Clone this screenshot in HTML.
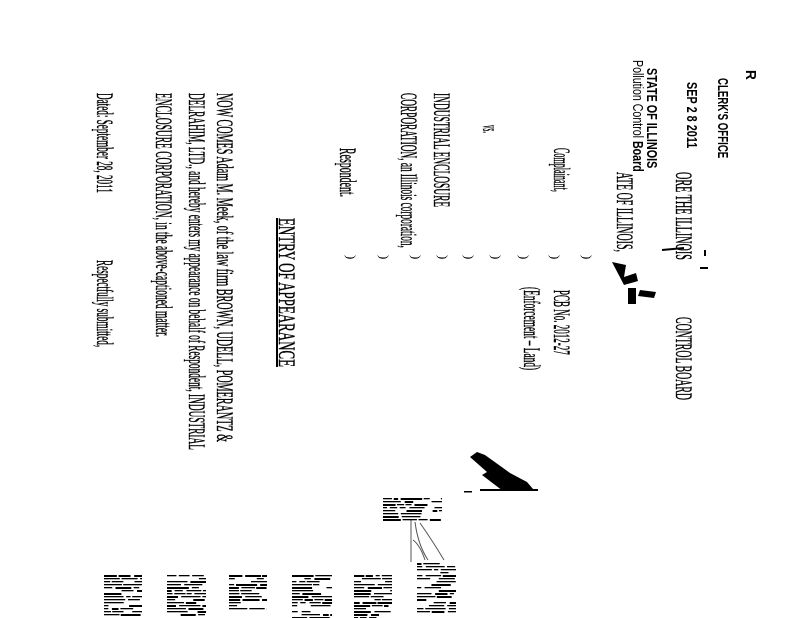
<!DOCTYPE html>
<html><head><meta charset="utf-8">
<style>
html,body{margin:0;padding:0;background:#fff;}
#p{position:relative;width:800px;height:618px;overflow:hidden;background:#fff;}
.t{position:absolute;white-space:nowrap;transform-origin:0 0;font-family:"Liberation Serif",serif;font-size:23px;line-height:23px;color:#000;-webkit-text-stroke:0.4px #000;}
.s{font-family:"Liberation Sans",sans-serif;font-weight:bold;-webkit-text-stroke:0;}
.u{text-decoration:underline;text-decoration-thickness:2px;}
svg{position:absolute;left:0;top:0;}
</style></head><body>
<div id="p">
<svg id="g" width="800" height="618">
<polygon fill="#000" points="470,457 477,452 485,455 510,473 527,482 533,489 538,489 503,491 482,475 487,472"/>
<rect x="480" y="489" width="58" height="2" fill="#000"/>
<rect x="464" y="491" width="8" height="1.5" fill="#000"/>
<path d="M411,520 L411,562 M415,522 Q418,545 428,560 M420,523 Q432,540 444,560 M413,540 Q420,545 425,560" stroke="#555" stroke-width="1" fill="none"/>
<path d="M612,262 l14,3 l-2,12 l12,-4 l2,8 l-14,4 z M640,290 l16,2 l-2,6 l-16,-2 z M628,288 l8,0 l0,16 l-8,0z" fill="#000"/>
<path d="M662,250 l22,-2 M700,268 l8,0 M705,250 l0,6" stroke="#000" stroke-width="2"/>
</svg>
</div>
<script>
var items=[
[757,70,10,"R","s"],
[729,78,80,"CLERK'S OFFICE","s"],
[698,82,66,"SEP 2 8 2011","s"],
[694,172,88,"ORE THE ILLINOIS",""],
[694,317,83,"CONTROL BOARD",""],
[658,68,100,"STATE OF ILLINOIS","s"],
[644,60,112,"Pollution Control <b>Board</b>","sn"],
[635,172,80,"ATE OF ILLINOIS,",""],
[572,148,44,"Complainant,",""],
[572,290,65,"PCB No. 2012-27",""],
[542,287,83,"(Enforcement – Land)",""],
[501,125,8,"vs.",""],
[452,93,114,"INDUSTRIAL ENCLOSURE",""],
[419,93,155,"CORPORATION, an Illinois corporation,",""],
[358,148,49,"Respondent.",""],
[297,218,149,"ENTRY OF APPEARANCE","u"],
[235,93,349,"NOW COMES Adam M. Meek, of the law firm BROWN, UDELL, POMERANTZ &",""],
[207,93,357,"DELRAHIM, LTD., and hereby enters my appearance on behalf of Respondent, INDUSTRIAL",""],
[174,93,244,"ENCLOSURE CORPORATION, in the above-captioned matter.",""],
[115,93,100,"Dated: September 28, 2011",""],
[115,260,87,"Respectfully submitted,",""]
];
var xs=[590,558,527,499,472,446,419,387,354];
xs.forEach(function(x){items.push([x+3,255,12,")","p"]);});
var p=document.getElementById('p');
items.forEach(function(it){
 var d=document.createElement('div');d.className='t';
 if(it[4]=='s')d.className+=' s';
 if(it[4]=='sn'){d.style.fontFamily='"Liberation Sans",sans-serif';d.style.webkitTextStroke='0';}
 if(it[4]=='u')d.className+=' u';
 if(it[4]=='s'||it[4]=='sn'){d.style.fontSize='15px';d.style.lineHeight='15px';}
 if(it[4]=='p'){d.style.fontSize='13px';d.style.lineHeight='13px';d.style.webkitTextStroke='0';}
 d.innerHTML=it[3];
 p.appendChild(d);
 var w=d.offsetWidth;var s=it[2]/w;
 if(it[4]=='p')s=1;
 d.style.left=(it[0]+1)+'px';d.style.top=it[1]+'px';
 d.style.transform='rotate(90deg) scaleX('+s+')';
});
var g=document.getElementById('g');
var seed=7;function r(){seed=(seed*9301+49297)%233280;return seed/233280;}
[[104,575,38,40],[167,575,39,40],[229,575,38,36],[292,575,40,43],[354,575,38,43],[417,563,39,50],[383,498,59,22]].forEach(function(b){
 for(var y=b[1];y<b[1]+b[3];y+=3){
  var x=b[0];
  while(x<b[0]+b[2]){
   var len=4+r()*18; if(x+len>b[0]+b[2])len=b[0]+b[2]-x;
   if(r()<0.75){var re=document.createElementNS('http://www.w3.org/2000/svg','rect');
    re.setAttribute('x',x);re.setAttribute('y',y);re.setAttribute('width',len);re.setAttribute('height',r()<0.3?2:1.3);re.setAttribute('fill','#000');g.appendChild(re);}
   x+=len+1+r()*3;
  }
 }
});
</script>
</body></html>
